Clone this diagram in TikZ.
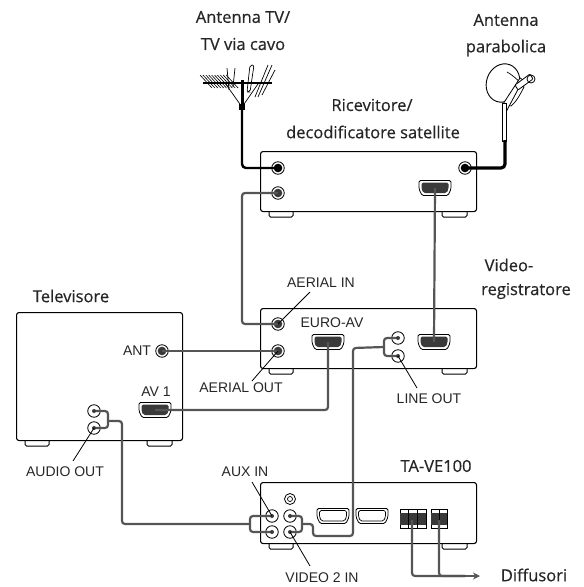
\documentclass[tikz,border=0pt]{standalone}
\usepackage{fontspec}
\setmainfont{Liberation Sans}
\newfontfamily\hdfont[FakeBold=0.5]{Open Sans}
\usetikzlibrary{arrows.meta}
\definecolor{cab}{HTML}{555555}
\definecolor{dk}{HTML}{3A3A3A}
\tikzset{
  x=1pt,y=-1pt,
  unit/.style={draw=black,line width=1.1pt,fill=white,rounded corners=2.5pt,inner sep=0pt,anchor=north west},
  foot/.style={draw=black,line width=1pt,fill=white,rounded corners=1.5pt},
  jack/.style={circle,draw=black,line width=.8pt,fill=white,minimum size=12.5pt,inner sep=0pt,
    path picture={\fill[dk] (path picture bounding box.center) circle (4.3pt);}},
  bjack/.style={circle,draw=black,line width=.8pt,fill=white,minimum size=12.5pt,inner sep=0pt,
    path picture={\fill[black] (path picture bounding box.center) circle (4.3pt);}},
  rca/.style={circle,draw=black,line width=.8pt,fill=white,minimum size=12.5pt,inner sep=0pt},
  ringjack/.style={circle,draw=black,line width=.8pt,fill=white,minimum size=11pt,inner sep=0pt,
    path picture={\draw[line width=.7pt] (path picture bounding box.center) circle (2.5pt);}},
  cable/.style={draw=cab,line width=2.2pt,rounded corners=3pt},
  blackcable/.style={draw=black,line width=2.4pt,rounded corners=4pt},
  leader/.style={draw=black,line width=.8pt},
  small/.style={font=\fontsize{14}{16}\selectfont,inner sep=0pt,text=black!85},
  head/.style={font=\hdfont\fontsize{16.5}{18}\selectfont,inner sep=0pt,text=black!85},
  thin part/.style={draw=black,line width=.7pt},
  pics/scart/.style={code={
    \draw[line width=.8pt,fill=white,rounded corners=1.5pt]
      (-16,-7.5) -- (16,-7.5) -- (16,1) -- (13,7.5) -- (-13,7.5) -- (-16,1) -- cycle;
    \fill[#1,rounded corners=1.5pt] (-13.5,-5.5) -- (13.5,-5.5) -- (13.5,1) -- (11.5,5) -- (-11.5,5) -- (-13.5,1) -- cycle;
  }},
  pics/scartlow/.style={code={
    \draw[line width=.8pt,fill=white,rounded corners=1.5pt]
      (-16,-7.5) -- (16,-7.5) -- (16,1) -- (13,7.5) -- (-13,7.5) -- (-16,1) -- cycle;
    \draw[line width=.7pt,rounded corners=1.5pt] (-13.5,-5.5) -- (13.5,-5.5) -- (13.5,1) -- (11.5,5) -- (-11.5,5) -- (-13.5,1) -- cycle;
  }},
  pics/term/.style={code={
    \draw[line width=.8pt,fill=white] (0,0) rectangle (#1,19);
    \fill[dk] (0,4) rectangle (#1,16);
  }}
}
\begin{document}
\begin{tikzpicture}
\useasboundingbox (0,0) rectangle (584,587);
% feet
\foreach \x/\y/\w in {269/211/24,442/211/25,269/368/24,442/368/25,25/440/24,147/440/25,269/543/24,442/543/25}
  \draw[foot] (\x,\y-3) rectangle (\x+\w,\y+6);
% units
\node[unit,minimum width=216pt,minimum height=60pt] (rec) at (260,151) {};
\node[unit,minimum width=216pt,minimum height=60pt] (vcr) at (260,308) {};
\node[unit,minimum width=166pt,minimum height=128pt] (tv) at (16,312) {};
\node[unit,minimum width=216pt,minimum height=61pt] (amp) at (260,482) {};
% antenna TV
\begin{scope}[thin part]
  \foreach \i in {0,...,9} \draw[line width=.6pt] (200+\i*2.9,75) -- (212+\i*2.9,88);
  \draw[line width=1.6pt] (203,83) -- (272,83);
  \draw (227,68) -- (229,90); \draw (235,68) -- (233,87);
  \draw[rounded corners=2pt] (250,65) -- (254,65) -- (250,92) -- (247,92) -- cycle;
  \draw (268,65) -- (255,97); \draw (272,65) -- (258,97); \draw (275,70) -- (262,95);
  \draw (242,107) -- (225,83); \draw (242,107) -- (258,84);
\end{scope}
\draw[line width=3pt] (242,80) -- (242,107);
\fill (239,104) rectangle (245,110);
% dish
\begin{scope}
  \draw[line width=.9pt,fill=white,rotate around={-20:(503,83)}] (503,83) ellipse (16.5pt and 19.5pt);
  \draw[line width=.7pt,fill=white] (507,72) .. controls (514,76) and (520,82) .. (524,87) .. controls (520,95) and (516,102) .. (511,106) -- (507,105);
  \draw[line width=.8pt,fill=white] (503,104) -- (506,112) -- (523,80) -- (520,78) -- cycle;
  \draw[line width=.8pt,fill=white,rounded corners=1pt] (515,85) -- (530,74) -- (533,79) -- (518,90) -- cycle;
  \draw[line width=.8pt] (531,79) circle (4pt);
  \draw[line width=.8pt,fill=white] (502.5,103) rectangle (506.5,141);
\end{scope}
% sockets
\node[bjack] (r1) at (278,168) {};
\node[jack] (r2) at (278,193) {};
\node[bjack] (r3) at (465,168) {};
\coordinate (rs) at (435,188);
\pic at (rs) {scart=dk};
\node[jack] (v1) at (278,324) {};
\node[jack] (v2) at (278,351) {};
\node[rca] (v3) at (398,338) {};
\node[rca] (v4) at (398,356) {};
\coordinate (vs1) at (328,342);
\coordinate (vs2) at (434,342);
\pic at (vs1) {scart=dk};
\pic at (vs2) {scart=dk};
\node[jack] (ta) at (162,351) {};
\coordinate (ts) at (155,410);
\pic at (ts) {scart=dk};
\node[rca] (t1) at (94,411) {};
\node[rca] (t2) at (94,428) {};
\node[ringjack] (a0) at (290,499) {};
\node[rca] (a1) at (272,516) {};
\node[rca] (a2) at (272,532) {};
\node[rca] (a3) at (290,516) {};
\node[rca] (a4) at (290,532) {};
\pic at (333,516) {scartlow};
\pic at (372,516) {scartlow};
\pic at (400,509) {term=26};
\pic at (431,509) {term=16};
\foreach \x in {408.5,417.5,439} \draw[line width=.7pt] (\x,509) -- (\x,528);
% named points
\coordinate (ant) at (242,107);
\coordinate (dishfoot) at (505,140);
\coordinate (ampjoin) at (250,524);
\coordinate (spk1) at (412,520);
\coordinate (spk2) at (439,520);
\coordinate (arrowend) at (480,576);
\coordinate (lnode) at (384,347);
\coordinate (tjoin) at (108,421);
\coordinate (ajoin) at (302,524);
% cables
\draw[blackcable] (ant) |- (r1.center);
\draw[blackcable,line width=3.2pt] (dishfoot) |- (r3.center);
\draw[cable] (r2.center) -| (242,260) |- (v1.center);
\draw[cable] (rs) -- (vs2);
\draw[cable] (ta.center) -- (v2.center);
\draw[cable] (vs1) |- (ts);
\draw[cable] (t1.center) -| (tjoin) |- (t2.center);
\draw[cable] (tjoin) -| (122,480) |- (ampjoin);
\draw[cable] (a1.center) -| (ampjoin) |- (a2.center);
\draw[cable] (a3.center) -| (ajoin) |- (a4.center);
\draw[cable] (ajoin) -| (313,536) -| (353,348) -- (lnode);
\draw[cable] (v3.center) -| (lnode) |- (v4.center);
\draw[cable] (spk1) |- (465,576);
\draw[cable] (spk2) |- (465,576);
\draw[cable,-{Stealth[length=7pt,width=7pt]}] (465,576) -- (arrowend);
\foreach \n in {t1,t2,a1,a2,a3,a4,v3,v4} \fill[dk] (\n) circle (2pt);
% leader lines
\coordinate (lai) at (310,292); \coordinate (lao) at (252,381); \coordinate (llo) at (417,388);
\coordinate (lau) at (73,461); \coordinate (lax) at (252,482); \coordinate (lv2) at (310,566);
\draw[leader] (v1.center) -- (lai);
\draw[leader] (v2.center) -- (lao);
\draw[leader] (v4.center) -- (llo);
\draw[leader] (t2.center) -- (lau);
\draw[leader] (a1.center) -- (lax);
\draw[leader] (a4.center) -- (lv2);
% small labels
\node[small] (l1) at (321,283) {AERIAL IN};
\node[small] (l2) at (332,323) {EURO-AV};
\node[small] (l3) at (429,399) {LINE OUT};
\node[small] (l4) at (241,388) {AERIAL OUT};
\node[small] (l5) at (137,351) {ANT};
\node[small] (l6) at (156,392) {AV 1};
\node[small] (l7) at (65,472) {AUDIO OUT};
\node[small] (l8) at (245,472) {AUX IN};
\node[small] (l9) at (322,578) {VIDEO 2 IN};
% heads
\node[head] (h1) at (243,17) {Antenna TV/};
\node[head] (h2) at (243,44) {TV via cavo};
\node[head] (h3) at (506,20) {Antenna};
\node[head] (h4) at (506,48) {parabolica};
\node[head] (h5) at (372,105) {Ricevitore/};
\node[head] (h6) at (373,132) {decodificatore satellite};
\node[head] (h7) at (509,265) {Video-};
\node[head] (h8) at (526,291) {registratore};
\node[head] (h9) at (71,296) {Televisore};
\node[head] (h10) at (436,466) {TA-VE100};
\node[head] (h11) at (534,575) {Diffusori};
\end{tikzpicture}
\end{document}
